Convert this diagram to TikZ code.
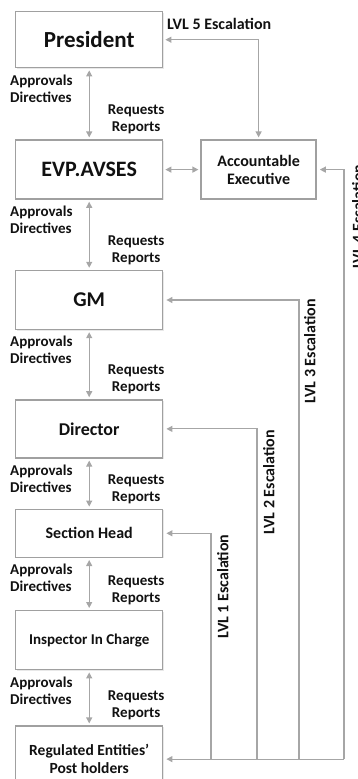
\documentclass[tikz,border=0pt]{standalone}
\usepackage{fontspec}
\setmainfont{Carlito}
\usepackage{tikz}
\usetikzlibrary{positioning,arrows.meta,calc,shadows}
\definecolor{lineGray}{HTML}{A6A6A6}
\definecolor{boxGray}{HTML}{A0A0A0}
\definecolor{textDark}{HTML}{111111}
\tikzset{
  orgbox/.style={rectangle,draw=boxGray,line width=1.4pt,fill=white,
    drop shadow={opacity=0.18,shadow xshift=1pt,shadow yshift=-1pt},
    minimum width=147pt,minimum height=59pt,align=center,text=textDark},
  arrow/.style={{Triangle[length=6pt,width=6pt]}-{Triangle[length=6pt,width=6pt]},
    draw=lineGray,line width=1.2pt,shorten <=2pt,shorten >=2pt},
  escline/.style={-{Triangle[length=6pt,width=6pt]},draw=lineGray,line width=1.1pt,shorten >=3pt},
  flowlabel/.style={font=\fontsize{15}{17}\selectfont\bfseries,text=textDark,inner sep=0pt},
  esctext/.style={font=\fontsize{16}{19}\selectfont\bfseries,text=textDark,inner sep=0pt},
  esclabel/.style={esctext,rotate=90}
}
\begin{document}
\begin{tikzpicture}[x=1pt,y=1pt]
\useasboundingbox (0,0) rectangle (357,-779);

% chain of command
\node[orgbox, anchor=north west, minimum height=56pt,
  font=\fontsize{23}{27}\selectfont\bfseries] (pres) at (15,-11) {President};
\node[orgbox, below=71pt of pres, font=\fontsize{22}{26}\selectfont\bfseries] (evp) {EVP.AVSES};
\node[orgbox, below=70pt of evp, font=\fontsize{21}{25}\selectfont\bfseries] (gm) {GM};
\node[orgbox, below=69pt of gm, minimum height=58pt,
  font=\fontsize{18}{21}\selectfont\bfseries] (dir) {Director};
\node[orgbox, below=50pt of dir, minimum height=48pt,
  font=\fontsize{16}{19}\selectfont\bfseries] (sec) {Section Head};
\node[orgbox, below=52pt of sec, font=\fontsize{15}{18}\selectfont\bfseries] (insp) {Inspector In Charge};
\node[orgbox, below=55pt of insp, minimum height=66pt,
  font=\fontsize{15.5}{18}\selectfont\bfseries] (reg) {Regulated Entities’\\Post holders};
\node[orgbox, right=37pt of evp, minimum width=115pt,
  font=\fontsize{16}{18}\selectfont\bfseries] (ae) {Accountable\\Executive};

\foreach \up/\down in {pres/evp, evp/gm, gm/dir, dir/sec, sec/insp, insp/reg} {
  \draw[arrow] (\up.south) -- (\down.north);
  \node[flowlabel, align=left, anchor=north west] at ($(\up.south west)+(-5,-6)$) {Approvals\\Directives};
  \node[flowlabel, align=center, anchor=south] at ($(\down.north)+(47,5)$) {Requests\\Reports};
}
\draw[arrow] (evp.east) -- (ae.west);

% escalation paths
\coordinate (lvla) at (211,0);
\coordinate (lvlb) at (257,0);
\coordinate (lvlc) at (299,0);
\coordinate (lvld) at (344,0);
\draw[escline] (reg.east -| lvld) -- (reg.east);
\foreach \bus/\target in {lvla/sec, lvlb/dir, lvlc/gm, lvld/ae}
  \draw[escline] (reg.east -| \bus) |- (\target.east);
\draw[arrow] (ae.north) |- (pres.east);

\node[esctext, anchor=base west] at (167,-29) {LVL 5 Escalation};
\node[esclabel, anchor=north east] at ($(sec.east -| lvla)+(6,-1)$) {LVL 1 Escalation};
\node[esclabel, anchor=north east] at ($(dir.east -| lvlb)+(6,-1)$) {LVL 2 Escalation};
\node[esclabel, anchor=north east] at ($(gm.east -| lvlc)+(5,1)$) {LVL 3 Escalation};
\node[esclabel, anchor=north east] at ($(ae.east -| lvld)+(8,5)$) {LVL 4 Escalation};
\end{tikzpicture}
\end{document}
